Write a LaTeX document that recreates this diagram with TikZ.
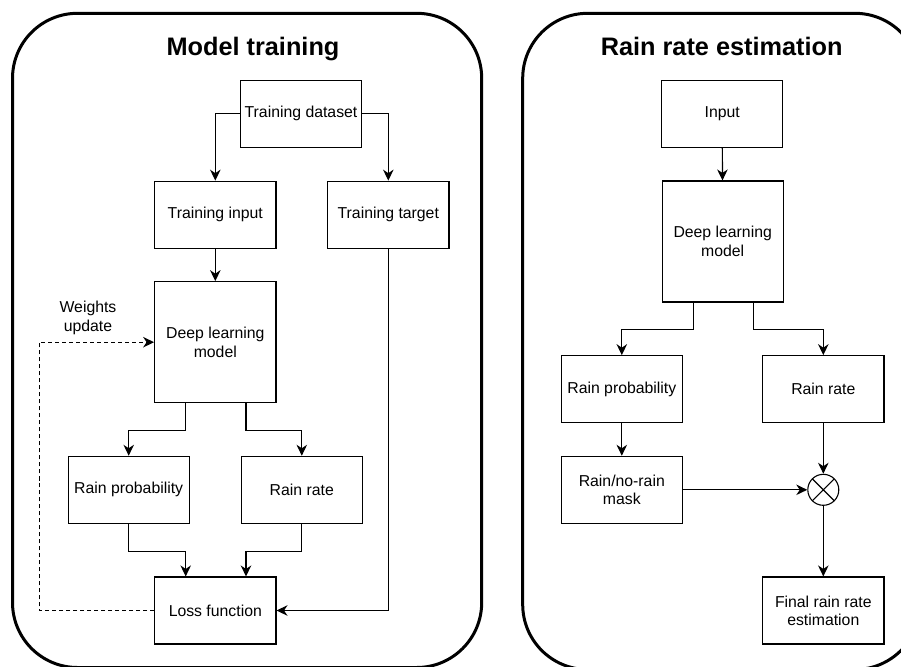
\documentclass[tikz,border=0pt]{standalone}
\usepackage{fontspec}
\setmainfont{Liberation Sans}
\usetikzlibrary{arrows.meta}
\tikzset{
  blk/.style={draw, line width=1.1pt, minimum width=121.3pt, minimum height=67pt, inner sep=0pt, align=center, font=\fontsize{15.8}{18.3}\selectfont},
  tall/.style={blk, minimum height=121pt},
  lbl/.style={align=center, inner sep=0pt, font=\fontsize{15.8}{18.3}\selectfont},
  arr/.style={-{Stealth[length=11pt,width=10.5pt,inset=3.5pt]}, line width=1.2pt},
  panel/.style={draw, line width=3pt, rounded corners=65pt},
  ttl/.style={anchor=base, inner sep=0pt, font=\fontsize{25.3}{30}\selectfont\bfseries},
  mult/.style={draw, circle, line width=1.1pt, minimum size=31pt, inner sep=0pt,
    path picture={\draw[line width=1.1pt] (path picture bounding box.north west) -- (path picture bounding box.south east)
      (path picture bounding box.north east) -- (path picture bounding box.south west);}}
}
\begin{document}
\begin{tikzpicture}[x=1pt,y=-1pt]
    \useasboundingbox (0,0) rectangle (901,666);
    \clip (0,0) rectangle (901,666);
    \draw[panel] (12.5,13.3) rectangle (481.7,667.5);
    \draw[panel] (522.7,13.3) rectangle (920,669.5);
    \node[ttl] (ttlA) at (253,56) {Model training};
    \node[ttl] (ttlB) at (721.7,56) {Rain rate estimation};
    \node[blk] (tds) at (301,113.8) {Training dataset};
    \node[blk] (tin) at (215.3,214.7) {Training input};
    \node[blk] (ttg) at (388.3,214.7) {Training target};
    \node[tall] (dlm) at (215.3,342.2) {Deep learning\\model};
    \node[blk] (rpl) at (128.7,489.8) {Rain probability};
    \node[blk] (rrl) at (301.8,489.8) {Rain rate};
    \node[blk] (loss) at (215.3,610.5) {Loss function};
    \node[lbl] (wup) at (88,318) {Weights\\update};
    \coordinate (fb) at (39.3,480);
    \draw[arr] (tds.west) -| (tin.north);
    \draw[arr] (tds.east) -| (ttg.north);
    \draw[arr] (tin) -- (dlm);
    \draw[arr] ([xshift=-29.6pt]dlm.south) -- ++(0,27.3) -| (rpl.north);
    \draw[arr] ([xshift=30.7pt]dlm.south) -- ++(0,27.3) -| (rrl.north);
    \draw[arr] (rpl.south) -- ++(0,27.4) -| ([xshift=-29.6pt]loss.north);
    \draw[arr] (rrl.south) -- ++(0,27.4) -| ([xshift=30.7pt]loss.north);
    \draw[arr] (ttg.south) |- (loss.east);
    \draw[arr, dash pattern=on 4pt off 3pt] (loss.west) -| (fb) |- (dlm.west);
    \node[blk] (inp) at (722.2,113.8) {Input};
    \node[tall] (dlr) at (722.7,241.5) {Deep learning\\model};
    \node[blk] (rpr) at (621.8,389.2) {Rain probability};
    \node[blk] (rrr) at (823.3,389.2) {Rain rate};
    \node[blk] (mask) at (621.8,489.8) {Rain/no-rain\\mask};
    \node[mult] (mul) at (823.3,489.8) {};
    \node[blk] (fin) at (823.3,610.5) {Final rain rate\\estimation};
    \draw[arr] (inp) -- (dlr);
    \draw[arr] ([xshift=-29.4pt]dlr.south) -- ++(0,27.3) -| (rpr.north);
    \draw[arr] ([xshift=31pt]dlr.south) -- ++(0,27.3) -| (rrr.north);
    \draw[arr] (rpr) -- (mask);
    \draw[arr] (rrr) -- (mul);
    \draw[arr] (mask) -- (mul);
    \draw[arr] (mul) -- (fin);
\end{tikzpicture}
\end{document}
